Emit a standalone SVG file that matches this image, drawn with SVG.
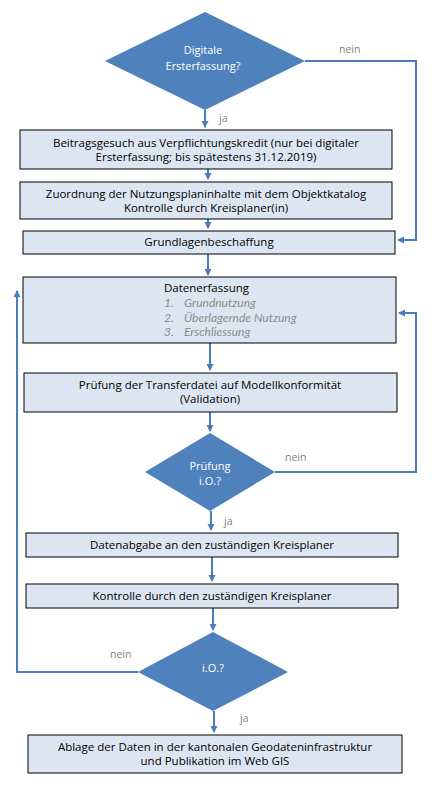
<svg xmlns="http://www.w3.org/2000/svg" width="434" height="792" viewBox="0 0 434 792">
<defs>
<marker id="ah" markerWidth="8" markerHeight="8" refX="6" refY="4" orient="auto" markerUnits="userSpaceOnUse">
<path d="M0,0.5 L7,4 L0,7.5 Z" fill="#4A7EBB"/>
</marker>
</defs>
<style>
.box{fill:#DCE6F2;stroke:#000;stroke-width:1}
.dia{fill:#4F81BD;stroke:none}
.t{font-family:"Open Sans","Noto Sans",sans-serif;font-size:11.5px;fill:#000;text-anchor:middle}
.dt{font-family:"Open Sans","Noto Sans",sans-serif;font-size:11px;fill:#fff;text-anchor:middle}
.lbl{font-family:"Open Sans","Noto Sans",sans-serif;font-size:10.5px;fill:#7F7F7F}
.h{font-family:"Open Sans","Noto Sans",sans-serif;font-size:11.5px;fill:#000}
.li{font-family:Lato,"Open Sans",sans-serif;font-size:12px;fill:#8C8C8C;font-style:italic}
.c{fill:none;stroke:#4A7EBB;stroke-width:2}
</style>
<rect width="434" height="792" fill="#fff"/>
<g id="connectors">
<path class="c" d="M205,110 V127" marker-end="url(#ah)"/>
<path class="c" d="M305,61 H416 V240 H398" marker-end="url(#ah)"/>
<path class="c" d="M208,169 V179" marker-end="url(#ah)"/>
<path class="c" d="M208,219 V228" marker-end="url(#ah)"/>
<path class="c" d="M208,254 V275" marker-end="url(#ah)"/>
<path class="c" d="M210,343 V370" marker-end="url(#ah)"/>
<path class="c" d="M210,412 V431" marker-end="url(#ah)"/>
<path class="c" d="M275,472 H416 V313 H399" marker-end="url(#ah)"/>
<path class="c" d="M211,511 V530" marker-end="url(#ah)"/>
<path class="c" d="M212,557 V581" marker-end="url(#ah)"/>
<path class="c" d="M213,608 V630" marker-end="url(#ah)"/>
<path class="c" d="M138,672 H17 V291" marker-end="url(#ah)"/>
<path class="c" d="M214,711 V732" marker-end="url(#ah)"/>
<text class="lbl" x="339" y="53">nein</text>
<text class="lbl" x="219" y="122">ja</text>
<text class="lbl" x="285" y="461">nein</text>
<text class="lbl" x="224" y="525">ja</text>
<text class="lbl" x="110" y="658">nein</text>
<text class="lbl" x="240" y="722">ja</text>
</g>
<g id="d1">
<polygon class="dia" points="205,12 305,61 205,110 105,61"/>
<text class="dt" x="203" y="54">Digitale</text>
<text class="dt" x="203" y="70">Ersterfassung?</text>
</g>
<g id="b1">
<rect class="box" x="20" y="130" width="372" height="39"/>
<text class="t" x="206" y="147">Beitragsgesuch aus Verpflichtungskredit (nur bei digitaler</text>
<text class="t" x="206" y="161">Ersterfassung; bis spätestens 31.12.2019)</text>
</g>
<g id="b2">
<rect class="box" x="20" y="182" width="372" height="37"/>
<text class="t" x="206" y="198">Zuordnung der Nutzungsplaninhalte mit dem Objektkatalog</text>
<text class="t" x="206" y="212">Kontrolle durch Kreisplaner(in)</text>
</g>
<g id="b3">
<rect class="box" x="23" y="231" width="372" height="23"/>
<text class="t" x="209" y="246">Grundlagenbeschaffung</text>
</g>
<g id="b4">
<rect class="box" x="23" y="277" width="373" height="66"/>
<text class="h" x="164" y="291.5">Datenerfassung</text>
<text class="li" x="164" y="307">1.</text>
<text class="li" x="184" y="307">Grundnutzung</text>
<text class="li" x="164" y="321.5">2.</text>
<text class="li" x="184" y="321.5">Überlagernde Nutzung</text>
<text class="li" x="164" y="336">3.</text>
<text class="li" x="184" y="336">Erschliessung</text>
</g>
<g id="b5">
<rect class="box" x="24" y="373" width="373" height="39"/>
<text class="t" x="210" y="389">Prüfung der Transferdatei auf Modellkonformität</text>
<text class="t" x="210" y="403">(Validation)</text>
</g>
<g id="d2">
<polygon class="dia" points="210,433 275,472 210,511 145,472"/>
<text class="dt" x="210" y="470">Prüfung</text>
<text class="dt" x="210" y="485">i.O.?</text>
</g>
<g id="b6">
<rect class="box" x="26" y="533" width="372" height="24"/>
<text class="t" x="212" y="549">Datenabgabe an den zuständigen Kreisplaner</text>
</g>
<g id="b7">
<rect class="box" x="26" y="584" width="372" height="24"/>
<text class="t" x="212" y="600">Kontrolle durch den zuständigen Kreisplaner</text>
</g>
<g id="d3">
<polygon class="dia" points="213,632 288,672 213,711 138,672"/>
<text class="dt" x="213" y="672">i.O.?</text>
</g>
<g id="b8">
<rect class="box" x="28" y="735" width="374" height="38"/>
<text class="t" x="215" y="751">Ablage der Daten in der kantonalen Geodateninfrastruktur</text>
<text class="t" x="215" y="765">und Publikation im Web GIS</text>
</g>
</svg>
